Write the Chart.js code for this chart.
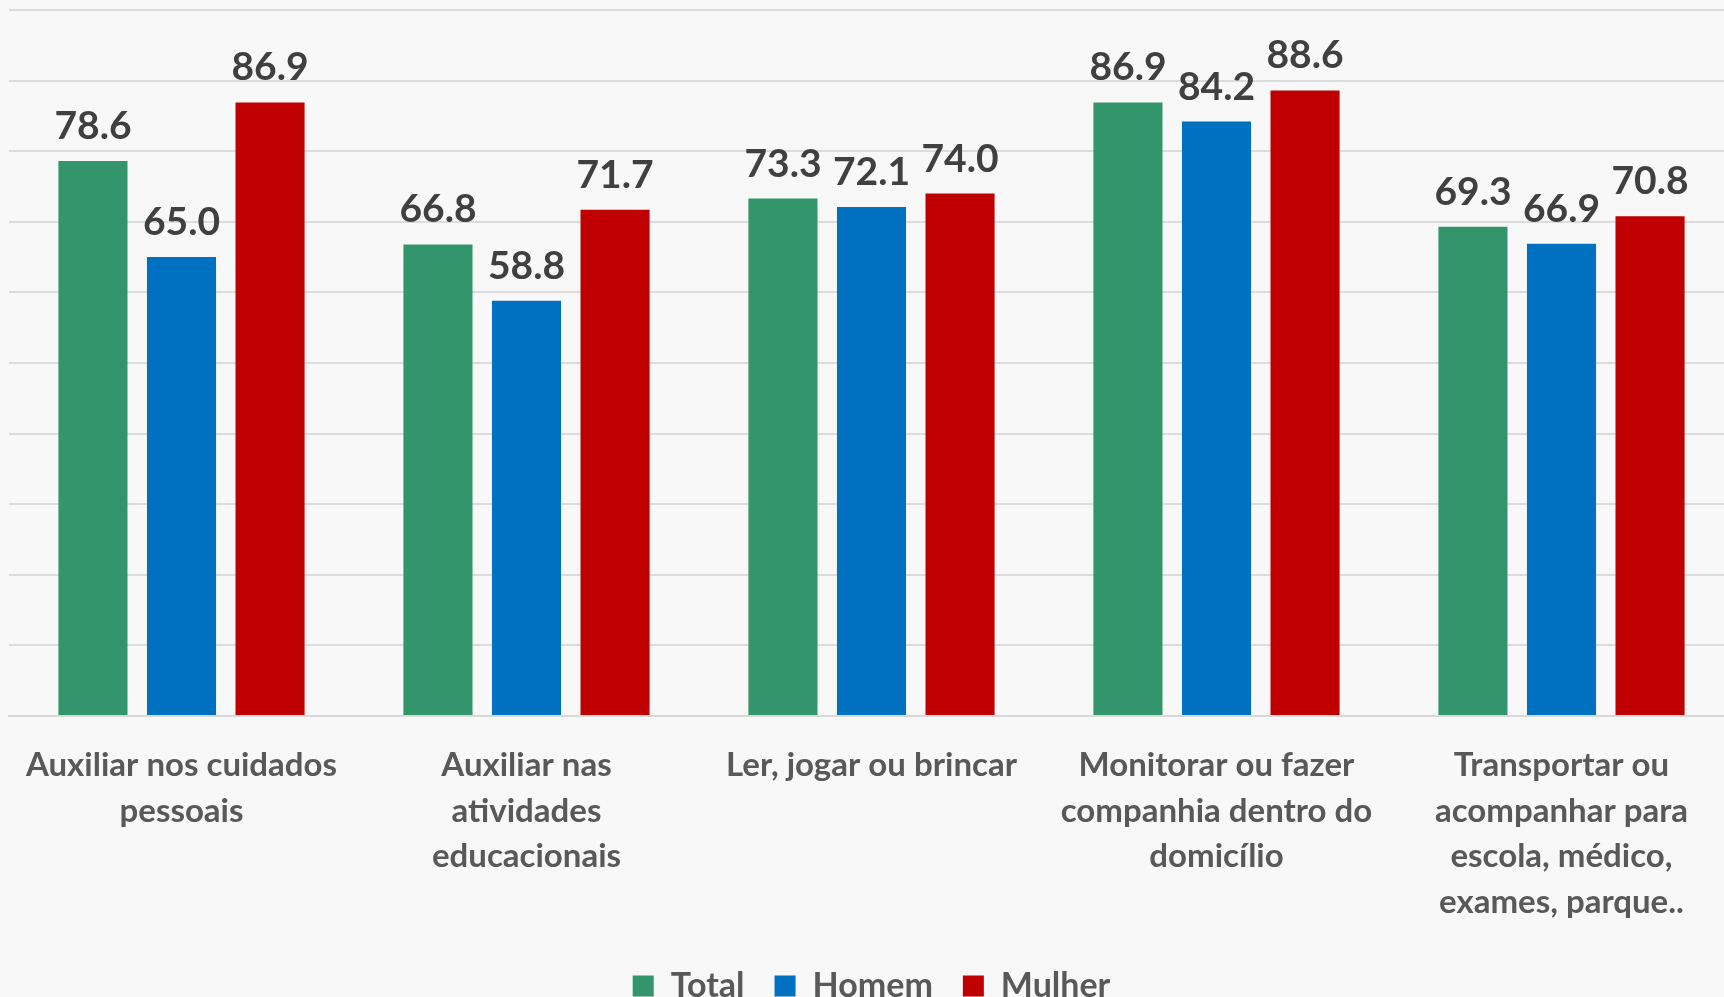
<!DOCTYPE html>
<html lang="pt">
<head>
<meta charset="UTF-8">
<title>Cuidados</title>
<style>
  html, body { margin: 0; padding: 0; overflow: hidden; background: #f8f8f8; }
  #wrap { position: absolute; left: 0; top: 0; width: 1745px; height: 1013px; }
</style>
</head>
<body>
<div id="wrap"><canvas id="chart"></canvas></div>

<script src="https://cdn.jsdelivr.net/npm/chart.js@4.4.1/dist/chart.umd.min.js"></script>
<script>
// data
var categories = [
    ["Auxiliar nos cuidados", "pessoais"],
    ["Auxiliar nas", "atividades", "educacionais"],
    ["Ler, jogar ou brincar"],
    ["Monitorar ou fazer", "companhia dentro do", "domicílio"],
    ["Transportar ou", "acompanhar para", "escola, médico,", "exames, parque.."]
];
var seriesNames = ["Total", "Homem", "Mulher"];
var total  = [78.6, 66.8, 73.3, 86.9, 69.3];
var homem  = [65.0, 58.8, 72.1, 84.2, 66.9];
var mulher = [86.9, 71.7, 74.0, 88.6, 70.8];
var yTicks = [0, 10, 20, 30, 40, 50, 60, 70, 80, 90, 100];

var colors = ["#33956c", "#0070c0", "#c00000"];
var font = "Lato, 'Open Sans', sans-serif";

// value labels above each bar
var valueLabels = {
    id: 'valueLabels',
    afterDatasetsDraw: function(chart) {
        var ctx = chart.ctx;
        ctx.save();
        ctx.font = "bold 39px " + font;
        ctx.fillStyle = "#404040";
        ctx.textAlign = "center";
        ctx.textBaseline = "alphabetic";
        chart.data.datasets.forEach(function(ds, i) {
            var meta = chart.getDatasetMeta(i);
            meta.data.forEach(function(bar, j) {
                ctx.fillText(ds.data[j].toFixed(1), bar.x, bar.y - 22);
            });
        });
        ctx.restore();
    }
};

var ctx = document.getElementById("chart").getContext("2d");
var myChart = new Chart(ctx, {
    type: 'bar',
    data: {
        labels: categories,
        datasets: [
            { label: seriesNames[0], data: total,  backgroundColor: colors[0] },
            { label: seriesNames[1], data: homem,  backgroundColor: colors[1] },
            { label: seriesNames[2], data: mulher, backgroundColor: colors[2] }
        ]
    },
    options: {
        responsive: true,
        maintainAspectRatio: false,
        animation: false,
        layout: { padding: { left: 9, right: 11, top: 10, bottom: 0 } },
        datasets: {
            bar: { categoryPercentage: 0.77, barPercentage: 0.78 }
        },
        scales: {
            x: {
                grid: { display: false },
                border: { display: true, color: "#d9d9d9", width: 2 },
                ticks: {
                    color: "#595959",
                    font: { family: font, size: 33, weight: 'bold', lineHeight: 1.38 },
                    padding: 19,
                    maxRotation: 0,
                    autoSkip: false
                },
                afterFit: function(s) { s.height = 223; }
            },
            y: {
                min: 0,
                max: 100,
                afterBuildTicks: function(s) {
                    s.ticks = yTicks.map(function(v) { return { value: v }; });
                },
                grid: { color: "#dcdcdc", lineWidth: 2, drawTicks: false },
                border: { display: false },
                ticks: { display: false },
                afterFit: function(s) { s.width = 0; }
            }
        },
        plugins: {
            legend: {
                position: 'bottom',
                labels: {
                    color: "#595959",
                    font: { family: font, size: 34, weight: 'bold' },
                    boxWidth: 21,
                    boxHeight: 21,
                    padding: 30
                }
            },
            tooltip: { enabled: false }
        }
    },
    plugins: [valueLabels]
});
</script>
</body>
</html>
